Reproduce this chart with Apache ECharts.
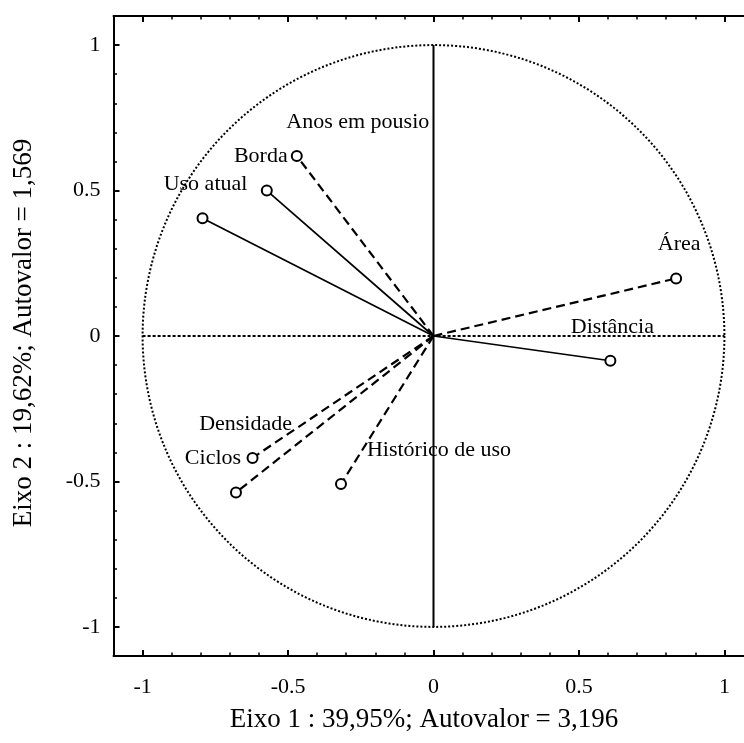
<!DOCTYPE html>
<html>
<head>
<meta charset="utf-8">
<script src="https://cdn.jsdelivr.net/npm/echarts@6/dist/echarts.min.js"></script>
<style>
  html, body { margin: 0; padding: 0; background: #ffffff; }
  #chart { width: 744px; height: 743px; }
</style>
</head>
<body>
<div id="chart"></div>
<script>
// Loadings of each variable on the first two principal axes
const variables = ['Anos em pousio', 'Borda', 'Uso atual', 'Área', 'Distância', 'Densidade', 'Ciclos', 'Histórico de uso'];
const axis1 = [-0.470, -0.573, -0.794, 0.834, 0.608, -0.622, -0.679, -0.318];
const axis2 = [0.619, 0.500, 0.405, 0.198, -0.085, -0.419, -0.538, -0.509];
const dashedVariables = ['Anos em pousio', 'Área', 'Densidade', 'Ciclos', 'Histórico de uso'];

// Axis ticks and titles
const majorTicks = [-1, -0.5, 0, 0.5, 1];
const minorTicks = [-1, -0.9, -0.8, -0.7, -0.6, -0.5, -0.4, -0.3, -0.2, -0.1, 0,
                    0.1, 0.2, 0.3, 0.4, 0.5, 0.6, 0.7, 0.8, 0.9, 1];
const xTitle = 'Eixo 1 : 39,95%; Autovalor = 3,196';
const yTitle = 'Eixo 2 : 19,62%; Autovalor = 1,569';

// Horizontal shift of each variable label (px) so neighbouring names don't collide
const labelShift = {
  'Anos em pousio': 61, 'Borda': -6, 'Uso atual': 3, 'Área': 3,
  'Distância': 2, 'Densidade': -7, 'Ciclos': -23, 'Histórico de uso': 98
};

const FONT = 'Liberation Serif';
const INK = '#000000';
const AX_MIN = -1.1, AX_MAX = 1.1;
const gridRect = { left: 113.5, top: 16, width: 640, height: 640 };

function valueAxis(gridIndex, position, ticks, tickLen, withLabels, showLine) {
  return {
    type: 'value', gridIndex, position, min: AX_MIN, max: AX_MAX,
    axisLine: { show: showLine, onZero: false, lineStyle: { color: INK, width: 2 } },
    axisTick: { show: true, inside: true, length: tickLen, customValues: ticks,
                lineStyle: { color: INK, width: tickLen > 4 ? 2 : 1.5 } },
    axisLabel: withLabels
      ? { show: true, customValues: majorTicks, color: INK, fontFamily: FONT, fontSize: 22,
          margin: position === 'bottom' ? 20 : 13 }
      : { show: false },
    splitLine: { show: false }
  };
}

const series = [];

// Unit correlation circle
series.push({
  type: 'custom', xAxisIndex: 0, yAxisIndex: 0, silent: true, clip: false,
  data: [[0, 0]],
  renderItem: function (params, api) {
    const c = api.coord([0, 0]);
    const s = api.size([1, 1]);
    return {
      type: 'circle',
      shape: { cx: c[0], cy: c[1], r: (s[0] + s[1]) / 2 },
      style: { fill: null, stroke: INK, lineWidth: 2, lineDash: [2, 2] }
    };
  }
});

// Cross through the origin
series.push({
  type: 'line', xAxisIndex: 0, yAxisIndex: 0, symbol: 'none', silent: true,
  data: [[-1, 0], [1, 0]],
  lineStyle: { color: INK, width: 1.8, type: [3, 2] }
});
series.push({
  type: 'line', xAxisIndex: 0, yAxisIndex: 0, symbol: 'none', silent: true,
  data: [[0, -1], [0, 1]],
  lineStyle: { color: INK, width: 2 }
});

// One vector per variable, from the origin to its loading
variables.forEach(function (name, i) {
  const dashed = dashedVariables.indexOf(name) >= 0;
  series.push({
    type: 'line', name: name, xAxisIndex: 0, yAxisIndex: 0, z: 5,
    showSymbol: true, showAllSymbol: true,
    data: [
      { value: [0, 0], symbol: 'none' },
      {
        value: [axis1[i], axis2[i]], symbol: 'emptyCircle', symbolSize: 10,
        label: {
          show: true, formatter: name, position: 'top', distance: 17,
          offset: [labelShift[name], 0],
          color: INK, fontFamily: FONT, fontSize: 22
        }
      }
    ],
    itemStyle: { color: INK, borderColor: INK, borderWidth: 2 },
    lineStyle: dashed ? { color: INK, width: 2.2, type: [9, 5] } : { color: INK, width: 1.7 }
  });
});

const chart = echarts.init(document.getElementById('chart'), null, { renderer: 'canvas' });
chart.setOption({
  animation: false,
  backgroundColor: '#ffffff',
  grid: [
    Object.assign({ outerBoundsMode: 'none' }, gridRect),
    Object.assign({ outerBoundsMode: 'none' }, gridRect)
  ],
  xAxis: [
    valueAxis(0, 'bottom', majorTicks, 6, true, true),
    valueAxis(0, 'top', majorTicks, 6, false, true),
    valueAxis(1, 'bottom', minorTicks, 3.5, false, false),
    valueAxis(1, 'top', minorTicks, 3.5, false, false)
  ],
  yAxis: [
    valueAxis(0, 'left', majorTicks, 6, true, true),
    valueAxis(0, 'right', majorTicks, 6, false, true),
    valueAxis(1, 'left', minorTicks, 3.5, false, false),
    valueAxis(1, 'right', minorTicks, 3.5, false, false)
  ],
  graphic: [
    {
      type: 'text', x: 424, y: 720,
      style: { text: xTitle, fill: INK, font: '27px "Liberation Serif"', align: 'center', verticalAlign: 'middle' }
    },
    {
      type: 'text', x: 24, y: 333, rotation: Math.PI / 2,
      style: { text: yTitle, fill: INK, font: '27px "Liberation Serif"', align: 'center', verticalAlign: 'middle' }
    }
  ],
  series: series
});
</script>
</body>
</html>
